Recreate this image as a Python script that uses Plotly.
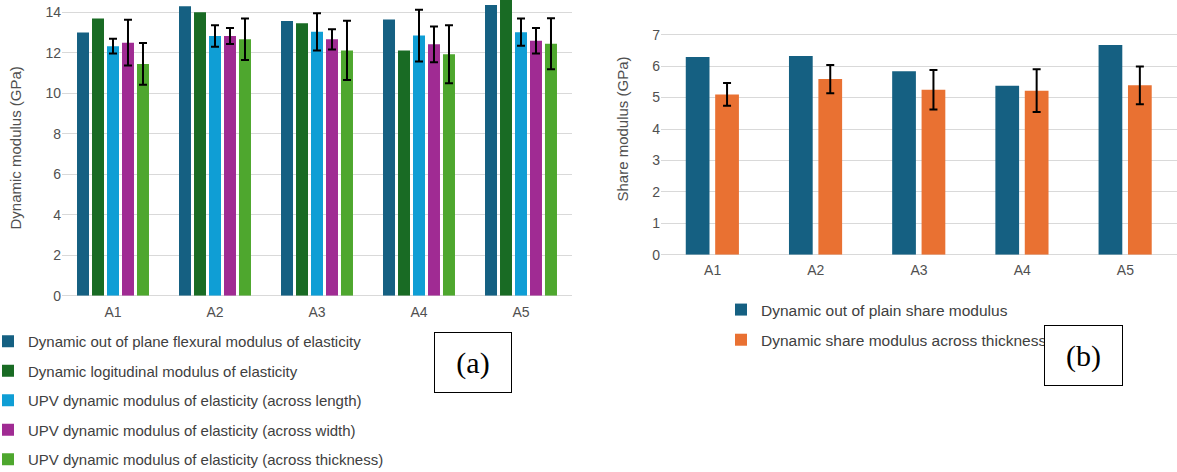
import plotly.graph_objects as go

categories = ["A1", "A2", "A3", "A4", "A5"]

# Panel (a) values (GPa)
flexural = [13.01, 14.30, 13.57, 13.65, 14.36]
longitudinal = [13.70, 14.00, 13.46, 12.12, 14.90]
upv_length = [12.33, 12.83, 13.04, 12.85, 13.02]
upv_length_err = [0.36, 0.53, 0.92, 1.28, 0.67]
upv_width = [12.50, 12.83, 12.67, 12.42, 12.60]
upv_width_err = [1.13, 0.40, 0.50, 0.88, 0.63]
upv_thick = [11.45, 12.67, 12.12, 11.93, 12.45]
upv_thick_err = [1.03, 1.02, 1.46, 1.43, 1.26]

names_a = [
    "Dynamic out of plane flexural modulus of elasticity",
    "Dynamic logitudinal modulus of elasticity",
    "UPV dynamic modulus of elasticity (across length)",
    "UPV dynamic modulus of elasticity (across width)",
    "UPV dynamic modulus of elasticity (across thickness)",
]

# Panel (b) values (GPa)
shear_plain = [6.29, 6.32, 5.84, 5.38, 6.67]
shear_thick = [5.10, 5.59, 5.25, 5.22, 5.39]
shear_thick_err = [0.36, 0.45, 0.63, 0.68, 0.60]
names_b = ["Dynamic out of plain share modulus", "Dynamic share modulus across thickness"]

colors_a = ["#156082", "#196B24", "#0F9ED5", "#A02B93", "#4EA72E"]
colors_b = ["#156082", "#E97132"]

FONT = "Liberation Sans, Arial, sans-serif"
TICKC = "#505050"

fig = go.Figure()

series_a = [
    (flexural, None),
    (longitudinal, None),
    (upv_length, upv_length_err),
    (upv_width, upv_width_err),
    (upv_thick, upv_thick_err),
]
for i, (vals, err) in enumerate(series_a):
    kw = {}
    if err is not None:
        kw["error_y"] = dict(type="data", array=err, visible=True, color="black", thickness=2, width=4)
    fig.add_trace(go.Bar(x=categories, y=vals, name=names_a[i], marker=dict(color=colors_a[i], line=dict(width=0)),
                         xaxis="x", yaxis="y", legend="legend", legendgroup="a%d" % i, **kw))

for i, (vals, err) in enumerate([(shear_plain, None), (shear_thick, shear_thick_err)]):
    kw = {}
    if err is not None:
        kw["error_y"] = dict(type="data", array=err, visible=True, color="black", thickness=2, width=4)
    fig.add_trace(go.Bar(x=categories, y=vals, name=names_b[i], marker=dict(color=colors_b[i], line=dict(width=0)),
                         xaxis="x2", yaxis="y2", legend="legend2", legendgroup="b%d" % i,
                         width=0.23, offset=-0.26 + i * 0.285, **kw))

W, H = 1177, 472
axis_common = dict(showgrid=True, gridcolor="#d9d9d9", gridwidth=1, zeroline=True, zerolinecolor="#d9d9d9",
                   zerolinewidth=1, showline=False, ticks="", tickfont=dict(family=FONT, size=14, color=TICKC))

fig.update_layout(
    width=W, height=H,
    margin=dict(l=0, r=0, t=0, b=0, autoexpand=False),
    paper_bgcolor="white", plot_bgcolor="white",
    barmode="group",
    bargap=0.265, bargroupgap=0.2,
    font=dict(family=FONT, size=13, color="#404040"),
    xaxis=dict(domain=[62 / W, 572 / W], anchor="y", showgrid=False, ticks="", showline=False,
               tickfont=dict(family=FONT, size=14, color=TICKC), automargin=False, ticklabelstandoff=6),
    yaxis=dict(domain=[1 - 295.7 / H, 1.0], anchor="x", range=[0, 14.61], dtick=2, automargin=False,
               title=dict(text="Dynamic modulus (GPa)", font=dict(family=FONT, size=15, color=TICKC), standoff=20),
               **axis_common),
    xaxis2=dict(domain=[661 / W, 1.0], anchor="y2", showgrid=False, ticks="", showline=False,
                tickfont=dict(family=FONT, size=14, color=TICKC), automargin=False, ticklabelstandoff=5),
    yaxis2=dict(domain=[1 - 254.7 / H, 1 - 3.3 / H], anchor="x2", range=[0, 8], dtick=1, automargin=False,
                title=dict(text="Share modulus (GPa)", font=dict(family=FONT, size=15, color=TICKC), standoff=19),
                **axis_common),
    legend=dict(xref="paper", yref="paper", x=-12 / W, y=1 - 325 / H, xanchor="left", yanchor="top",
                font=dict(family=FONT, size=15, color="#404040"), tracegroupgap=7, traceorder="grouped",
                bgcolor="rgba(0,0,0,0)", itemclick=False),
    legend2=dict(xref="paper", yref="paper", x=721 / W, y=1 - 293 / H, xanchor="left", yanchor="top",
                 font=dict(family=FONT, size=15.5, color="#404040"), tracegroupgap=7, traceorder="grouped",
                 bgcolor="rgba(0,0,0,0)", itemclick=False),
    showlegend=True,
)

fig.add_annotation(xref="paper", yref="paper", x=473 / W, y=1 - 362 / H, xanchor="center", yanchor="middle",
                   text="(a)", showarrow=False,
                   font=dict(family="Liberation Serif, Times New Roman, serif", size=30, color="black"),
                   width=76, height=59, bordercolor="black", borderwidth=1, borderpad=0, bgcolor="white")
fig.add_annotation(xref="paper", yref="paper", x=1083.5 / W, y=1 - 355.5 / H, xanchor="center", yanchor="middle",
                   text="(b)", showarrow=False,
                   font=dict(family="Liberation Serif, Times New Roman, serif", size=30, color="black"),
                   width=77, height=59, bordercolor="black", borderwidth=1, borderpad=0, bgcolor="white")

fig.write_html("out.html")
